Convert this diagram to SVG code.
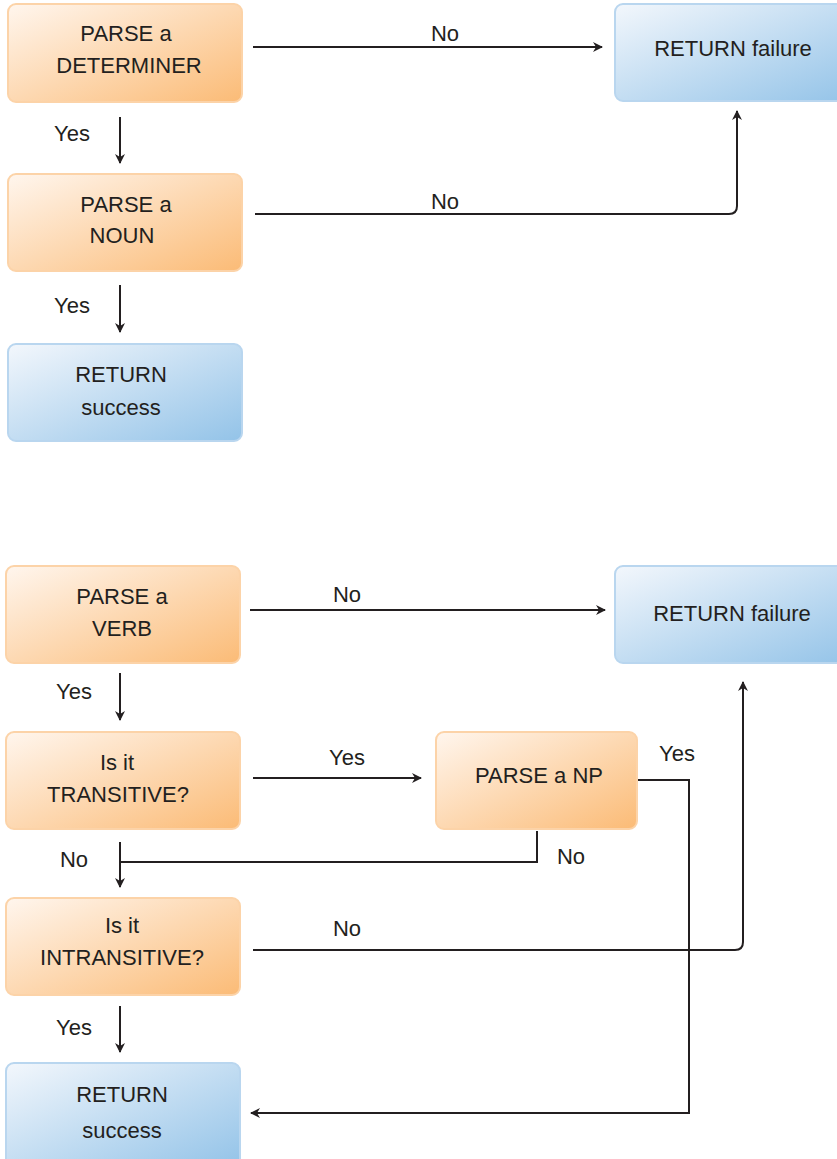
<svg xmlns="http://www.w3.org/2000/svg" width="837" height="1159" viewBox="0 0 837 1159">
<style>
text{font-family:"Liberation Sans",Arial,sans-serif;font-size:22px;fill:#231f20;text-anchor:middle}
.o{fill:url(#og);stroke:#fcd3a8;stroke-width:2}
.b{fill:url(#bg);stroke:#b9d6ef;stroke-width:2}
.c{fill:none;stroke:#231f20;stroke-width:2}
.a{marker-end:url(#ah)}
</style>
<defs>
<linearGradient id="og" x1="0" y1="0" x2="1" y2="1">
<stop offset="0" stop-color="#fff6ee"/>
<stop offset="1" stop-color="#fbbb76"/>
</linearGradient>
<linearGradient id="bg" x1="0" y1="0" x2="1" y2="1">
<stop offset="0" stop-color="#f3f7fc"/>
<stop offset="1" stop-color="#93c3e8"/>
</linearGradient>
<marker id="ah" viewBox="0 0 10 10" refX="9" refY="5" markerWidth="5" markerHeight="5" orient="auto" markerUnits="strokeWidth">
<path d="M0,0 L10,5 L0,10 L3,5 z" fill="#231f20"/>
</marker>
</defs>
<g id="connectors">
<path class="c a" d="M253,47 H602"/>
<path class="c a" d="M120,117 V163"/>
<path class="c a" d="M255,214 H729 Q737,214 737,206 V111"/>
<path class="c a" d="M120,285 V332"/>
<path class="c a" d="M250,610 H605"/>
<path class="c a" d="M120,673 V720"/>
<path class="c a" d="M253,778 H421"/>
<path class="c a" d="M637,780 H689 V1113 H251"/>
<path class="c" d="M537,831 V862 H120"/>
<path class="c a" d="M120,842 V887"/>
<path class="c a" d="M253,950 H735 Q743,950 743,942 V682"/>
<path class="c a" d="M120,1006 V1052"/>
</g>
<g id="labels">
<text x="445" y="41">No</text>
<text x="72" y="141">Yes</text>
<text x="445" y="209">No</text>
<text x="72" y="313">Yes</text>
<text x="347" y="602">No</text>
<text x="74" y="699">Yes</text>
<text x="347" y="765">Yes</text>
<text x="677" y="761">Yes</text>
<text x="74" y="867">No</text>
<text x="571" y="864">No</text>
<text x="347" y="936">No</text>
<text x="74" y="1035">Yes</text>
</g>
<g id="n-det"><rect class="o" x="8" y="4" width="234" height="98" rx="8"/><text x="126" y="41">PARSE a</text><text x="129" y="73">DETERMINER</text></g>
<g id="n-fail1"><rect class="b" x="615" y="4" width="240" height="97" rx="8"/><text x="733" y="56">RETURN failure</text></g>
<g id="n-noun"><rect class="o" x="8" y="174" width="234" height="97" rx="8"/><text x="126" y="212">PARSE a</text><text x="122" y="243">NOUN</text></g>
<g id="n-succ1"><rect class="b" x="8" y="344" width="234" height="97" rx="8"/><text x="121" y="382">RETURN</text><text x="121" y="415">success</text></g>
<g id="n-verb"><rect class="o" x="6" y="566" width="234" height="97" rx="8"/><text x="122" y="604">PARSE a</text><text x="122" y="636">VERB</text></g>
<g id="n-fail2"><rect class="b" x="615" y="566" width="240" height="97" rx="8"/><text x="732" y="621">RETURN failure</text></g>
<g id="n-trans"><rect class="o" x="6" y="732" width="234" height="97" rx="8"/><text x="117" y="770">Is it</text><text x="118" y="802">TRANSITIVE?</text></g>
<g id="n-np"><rect class="o" x="436" y="732" width="201" height="97" rx="8"/><text x="539" y="783">PARSE a NP</text></g>
<g id="n-intrans"><rect class="o" x="6" y="898" width="234" height="97" rx="8"/><text x="122" y="933">Is it</text><text x="122" y="965">INTRANSITIVE?</text></g>
<g id="n-succ2"><rect class="b" x="6" y="1063" width="234" height="104" rx="8"/><text x="122" y="1102">RETURN</text><text x="122" y="1138">success</text></g>
</svg>
